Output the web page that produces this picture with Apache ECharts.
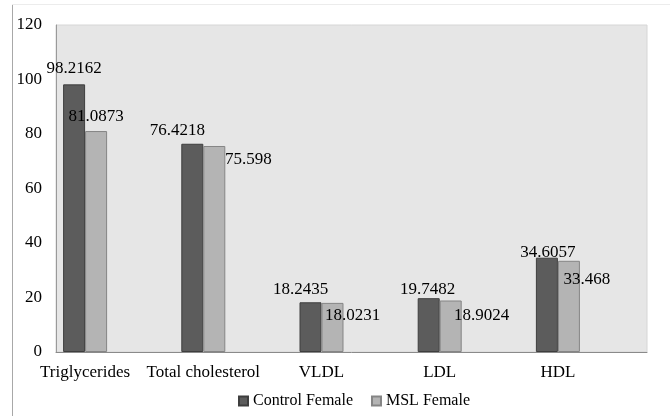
<!DOCTYPE html>
<html>
<head>
<meta charset="utf-8">
<script src="https://cdn.jsdelivr.net/npm/echarts@6/dist/echarts.min.js"></script>
<style>
  html, body { margin: 0; padding: 0; background: #ffffff; }
  #chart { width: 670px; height: 416px; }
</style>
</head>
<body>
<div id="chart"></div>
<script>
// Serum lipid profile, female groups
const categories = ['Triglycerides', 'Total cholesterol', 'VLDL', 'LDL', 'HDL'];
const seriesNames = ['Control Female', 'MSL Female'];
const controlFemale = [98.2162, 76.4218, 18.2435, 19.7482, 34.6057];
const mslFemale = [81.0873, 75.598, 18.0231, 18.9024, 33.468];
const yTicks = [0, 20, 40, 60, 80, 100, 120];

// hand-placed value label offsets [dx, dy] from the bar top
const controlLabelShift = [[0, -7], [-15, -5], [-10, -4], [-1, 0], [1, 3]];
const mslLabelShift = [[0, -6], [34, 22], [20, 21], [31, 24], [18, 27]];

const FONT = "'Liberation Serif', 'Times New Roman', serif";
const FS = 17;
const DARK = '#5c5c5c', DARK_EDGE = '#3e3e3e';
const LIGHT = '#b4b4b4', LIGHT_EDGE = '#858585';

function withLabels(values, shifts) {
  return values.map((v, i) => ({
    value: v,
    label: { offset: shifts[i] }
  }));
}

const chart = echarts.init(document.getElementById('chart'), null, { renderer: 'canvas' });

const yMin = yTicks[0], yMax = yTicks[yTicks.length - 1];
const yStep = yTicks[1] - yTicks[0];

chart.setOption({
  animation: false,
  backgroundColor: '#ffffff',
  textStyle: { fontFamily: FONT },
  graphic: [
    { type: 'line', shape: { x1: 12.5, y1: 4, x2: 12.5, y2: 416 }, style: { stroke: '#a8a8a8', lineWidth: 1 } },
    { type: 'line', shape: { x1: 12, y1: 4.5, x2: 670, y2: 4.5 }, style: { stroke: '#ececec', lineWidth: 1 } }
  ],
  legend: {
    data: seriesNames,
    left: 233,
    top: 388,
    itemWidth: 9,
    itemHeight: 9,
    itemGap: 18,
    icon: 'rect',
    textStyle: { fontFamily: FONT, fontSize: 16, color: '#000' }
  },
  grid: [
    // plot frame with shaded background
    { left: 56, right: 23, top: 25, bottom: 64, show: true, backgroundColor: '#e6e6e6', borderColor: '#d6d6d6', borderWidth: 1 },
    // category band for the bars
    { left: 26, right: 53, top: 25, bottom: 64 }
  ],
  xAxis: [
    {
      gridIndex: 0, type: 'category', data: categories,
      axisLine: { show: true, lineStyle: { color: '#8a8a8a', width: 1 } },
      axisTick: { show: false }, axisLabel: { show: false }, splitLine: { show: false }
    },
    {
      gridIndex: 1, type: 'category', data: categories,
      axisLine: { show: false }, axisTick: { show: false },
      axisLabel: { interval: 0, color: '#000', fontFamily: FONT, fontSize: FS, margin: 12 }
    }
  ],
  yAxis: [
    {
      gridIndex: 0, type: 'value', min: yMin, max: yMax, interval: yStep,
      axisLine: { show: true, lineStyle: { color: '#9a9a9a', width: 1 } },
      axisTick: { show: false }, splitLine: { show: false },
      axisLabel: { color: '#000', fontFamily: FONT, fontSize: FS, margin: 14 }
    },
    {
      gridIndex: 1, type: 'value', min: yMin, max: yMax, interval: yStep,
      axisLine: { show: false }, axisTick: { show: false }, splitLine: { show: false },
      axisLabel: { show: false }
    }
  ],
  series: [
    {
      name: seriesNames[0], type: 'bar', xAxisIndex: 1, yAxisIndex: 1,
      barWidth: 22, barGap: '0%', z: 2,
      itemStyle: { color: DARK, borderColor: DARK_EDGE, borderWidth: 1 },
      label: { show: true, position: 'top', distance: 0, color: '#000', fontFamily: FONT, fontSize: FS },
      data: withLabels(controlFemale, controlLabelShift)
    },
    {
      name: seriesNames[1], type: 'bar', xAxisIndex: 1, yAxisIndex: 1,
      barWidth: 22, barGap: '0%', z: 3,
      itemStyle: { color: LIGHT, borderColor: LIGHT_EDGE, borderWidth: 1 },
      label: { show: true, position: 'top', distance: 0, color: '#000', fontFamily: FONT, fontSize: FS },
      data: withLabels(mslFemale, mslLabelShift)
    }
  ]
});
</script>
</body>
</html>
